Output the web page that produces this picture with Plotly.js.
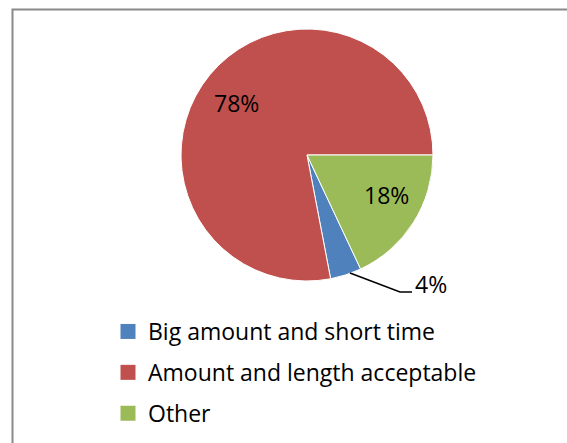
<!DOCTYPE html>
<html><head><meta charset="utf-8">
<script src="https://cdn.plot.ly/plotly-3.0.1.min.js"></script>
<style>html,body{margin:0;padding:0;background:#fff}#chart{width:567px;height:443px}</style>
</head><body><div id="chart"></div>
<script>
const categories = ['Big amount and short time', 'Amount and length acceptable', 'Other'];
const shares = [4, 78, 18];
const colors = ['#4F81BD', '#C0504D', '#9BBB59'];
const labelSuffix = '%';

const W = 567, H = 443;
const px = x => x / W, py = y => 1 - y / H;
const FONT = '"Open Sans", "Noto Sans", sans-serif';
const FS = 23;

// label anchor points (pixel positions in the figure) for the slice value texts
const labelSpots = [[431, 283.5], [236.5, 103.5], [386.5, 195]];

const pie = {
  type: 'pie', labels: categories, values: shares, sort: false,
  direction: 'clockwise', rotation: 154.8,
  marker: {colors: colors, line: {color: '#ffffff', width: 1}},
  textinfo: 'none', showlegend: false, hoverinfo: 'label+percent',
  domain: {x: [px(181), px(433)], y: [py(281), py(29)]}
};

const legendTraces = categories.map((c, i) => ({
  type: 'scatter', mode: 'markers', x: [null], y: [null], name: c,
  legendgroup: 'g' + i, showlegend: true, hoverinfo: 'skip',
  marker: {symbol: 'square', size: 15, color: colors[i]}
}));

const total = shares.reduce((a, b) => a + b, 0);
const annotations = shares.map((v, i) => ({
  xref: 'paper', yref: 'paper', x: px(labelSpots[i][0]), y: py(labelSpots[i][1]),
  xanchor: 'center', yanchor: 'middle',
  text: Math.round(100 * v / total) + labelSuffix, showarrow: false,
  font: {family: FONT, size: FS, color: '#000000'}
}));

const layout = {
  width: W, height: H,
  margin: {l: 0, r: 0, t: 0, b: 0, autoexpand: false},
  paper_bgcolor: '#ffffff', plot_bgcolor: 'rgba(0,0,0,0)',
  font: {family: FONT, size: FS, color: '#000000'},
  xaxis: {visible: false}, yaxis: {visible: false},
  showlegend: true,
  legend: {x: px(108), y: py(310), xanchor: 'left', yanchor: 'top',
           font: {family: FONT, size: FS, color: '#000000'},
           tracegroupgap: 8, bgcolor: 'rgba(0,0,0,0)', borderwidth: 0},
  shapes: [
    {type: 'rect', xref: 'paper', yref: 'paper', x0: px(12.5), x1: px(620), y0: py(480), y1: py(9.5),
     line: {color: '#8a8a8a', width: 2}, fillcolor: 'rgba(0,0,0,0)'},
    {type: 'path', xref: 'paper', yref: 'paper',
     path: `M${px(350)},${py(273)} L${px(400)},${py(292)} L${px(412)},${py(292)}`,
     line: {color: '#000000', width: 1.5}}
  ],
  annotations: annotations
};

Plotly.newPlot('chart', [pie].concat(legendTraces), layout, {displayModeBar: false, staticPlot: true});
</script>
</body></html>
